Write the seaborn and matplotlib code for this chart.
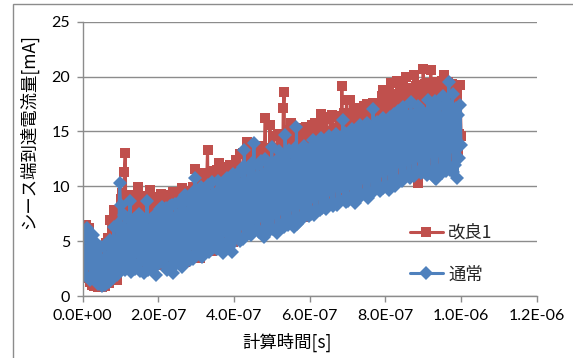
import numpy as np
import pandas as pd
import matplotlib
matplotlib.use("Agg")
import matplotlib.pyplot as plt
from matplotlib.patches import Rectangle
from matplotlib.ticker import FuncFormatter
import seaborn as sns

# Sheath-end current [mA], one sample every 2.5 ns over 1 us of simulated time
improved = [
    1.7, 5.1, 2.6, 6.5, 1.6, 5.6, 3.0, 6.2, 1.3, 4.8, 1.0, 4.4, 0.9, 4.0, 1.6, 4.3, 0.8, 3.9, 1.4, 4.2,
    0.8, 3.7, 1.5, 4.5, 0.9, 4.8, 1.8, 5.3, 1.2, 6.9, 2.1, 6.0, 1.5, 7.8, 2.4, 6.5, 1.5, 7.2, 2.6, 6.8,
    8.8, 2.8, 9.4, 3.5, 11.3, 13.0, 2.7, 7.6, 3.4, 8.2, 2.9, 9.2, 3.8, 7.4, 2.6, 8.7, 3.1, 7.9, 9.9, 2.8,
    8.5, 3.6, 7.3, 2.7, 9.1, 3.3, 8.0, 2.6, 8.6, 3.9, 7.5, 9.7, 2.9, 8.4, 3.2, 7.8, 2.8, 9.0, 3.5, 8.3,
    2.9, 8.6, 3.5, 9.3, 2.8, 8.0, 3.2, 8.8, 4.0, 8.7, 2.7, 9.2, 3.3, 8.1, 2.9, 9.5, 3.8, 8.6, 3.0, 9.4,
    3.6, 8.5, 2.9, 9.1, 4.1, 9.8, 3.4, 8.7, 3.1, 9.6, 3.9, 8.9, 3.3, 9.4, 4.3, 9.0, 3.6, 9.9, 3.5, 11.6,
    4.2, 10.3, 3.6, 11.0, 3.5, 10.6, 4.7, 10.2, 3.9, 11.2, 5.0, 10.4, 13.3, 4.3, 10.7, 4.9, 11.4, 4.1, 10.9, 5.2,
    10.6, 4.6, 11.5, 4.5, 12.1, 5.3, 11.0, 4.4, 11.6, 5.1, 11.1, 4.6, 11.8, 5.4, 11.2, 4.8, 11.9, 5.6, 11.3, 4.9,
    11.4, 5.3, 12.4, 5.9, 11.5, 5.4, 12.9, 6.1, 11.6, 5.5, 13.0, 6.4, 11.8, 5.6, 14.0, 6.0, 12.6, 5.8, 13.2, 6.5,
    12.3, 5.9, 13.4, 6.2, 12.4, 6.8, 13.6, 6.0, 12.6, 6.4, 13.7, 5.8, 12.7, 16.2, 6.3, 13.5, 6.1, 12.8, 15.6, 6.6,
    13.3, 6.4, 14.6, 6.9, 13.4, 6.2, 14.8, 7.1, 13.5, 6.6, 14.2, 6.8, 17.1, 18.6, 6.8, 14.5, 7.3, 14.0, 6.9, 15.1,
    15.8, 7.0, 14.1, 7.5, 15.2, 7.1, 14.2, 7.6, 15.0, 7.3, 14.3, 7.8, 15.3, 7.2, 14.4, 7.7, 15.4, 7.5, 14.5, 7.9,
    14.6, 7.8, 15.6, 8.1, 14.7, 7.9, 15.8, 8.3, 14.8, 8.0, 15.1, 8.5, 16.6, 8.2, 15.2, 8.6, 14.9, 8.3, 16.1, 8.7,
    15.0, 8.4, 16.3, 8.8, 16.5, 8.5, 15.2, 9.0, 16.4, 8.7, 15.3, 9.1, 15.6, 8.8, 19.1, 9.2, 16.7, 8.9, 15.5, 17.9,
    9.0, 16.0, 9.4, 17.9, 9.1, 16.2, 9.5, 15.6, 9.2, 17.1, 9.6, 16.1, 9.3, 16.9, 9.8, 15.8, 9.4, 17.3, 9.9, 16.3,
    9.5, 17.5, 10.0, 16.4, 9.6, 16.7, 10.1, 17.6, 9.7, 16.8, 10.2, 17.0, 9.8, 16.9, 10.3, 17.4, 18.2, 10.0, 18.8, 10.4,
    18.6, 10.3, 17.6, 10.6, 18.5, 10.4, 19.4, 10.8, 17.9, 10.5, 18.4, 11.0, 19.6, 10.7, 18.0, 11.1, 18.9, 10.8, 19.3, 11.2,
    17.8, 10.9, 20.0, 11.3, 18.7, 11.0, 19.0, 11.4, 17.9, 11.1, 20.1, 11.5, 19.1, 11.2, 18.2, 10.3, 19.2, 11.6, 19.0, 11.4,
    20.7, 11.6, 19.3, 11.8, 18.6, 11.7, 19.4, 12.0, 20.6, 11.8, 18.7, 12.1, 19.5, 11.9, 18.5, 12.2, 19.4, 12.0, 18.9, 12.3,
    19.6, 12.1, 20.1, 12.4, 18.8, 12.2, 19.5, 12.5, 18.4, 12.3, 19.3, 12.6, 18.8, 12.4, 18.1, 12.8, 18.6, 13.0, 14.8, 19.2,
    14.6,
]
normal = [
    2.0, 5.3, 2.6, 4.1, 1.8, 6.2, 3.4, 5.0, 1.5, 4.2, 2.9, 5.6, 1.7, 3.9, 2.4, 4.7, 1.1, 3.5, 2.0, 4.5,
    0.9, 3.1, 1.6, 4.6, 1.0, 3.6, 2.3, 4.8, 1.3, 5.1, 2.7, 4.3, 1.6, 6.3, 2.5, 4.9, 1.9, 6.6, 3.2, 10.3,
    8.3, 2.6, 5.8, 3.9, 7.4, 2.4, 6.0, 4.3, 7.1, 2.8, 8.7, 2.2, 5.6, 3.7, 7.0, 2.5, 6.1, 4.4, 7.2, 3.0,
    7.5, 2.3, 5.4, 3.6, 6.9, 2.1, 6.3, 4.0, 8.7, 2.4, 5.9, 3.3, 7.0, 2.6, 6.2, 4.1, 7.4, 1.9, 5.7, 2.8,
    6.8, 3.0, 7.9, 4.2, 8.1, 3.3, 6.7, 2.8, 8.0, 2.4, 7.1, 3.9, 8.2, 2.6, 8.3, 2.1, 7.0, 4.4, 8.4, 2.9,
    7.4, 3.6, 8.6, 3.0, 6.9, 2.6, 8.5, 4.5, 9.2, 3.1, 7.6, 3.8, 8.7, 3.3, 7.9, 4.7, 8.6, 3.4, 9.6, 10.8,
    3.9, 9.2, 5.0, 8.3, 4.1, 9.9, 3.6, 8.6, 4.4, 9.6, 5.3, 8.8, 4.6, 10.1, 4.0, 8.9, 4.5, 10.4, 5.6, 9.0,
    4.8, 9.4, 4.3, 10.5, 5.7, 9.1, 4.4, 9.9, 3.9, 10.0, 5.9, 9.2, 4.5, 10.8, 5.0, 9.4, 4.6, 10.2, 4.0, 11.1,
    5.1, 10.5, 6.3, 9.9, 5.4, 11.3, 5.0, 10.2, 6.6, 11.8, 5.2, 13.3, 5.5, 10.3, 6.7, 11.6, 5.8, 10.5, 5.6, 12.1,
    6.0, 13.9, 7.1, 10.8, 6.1, 11.9, 5.8, 10.6, 7.3, 12.3, 5.9, 11.1, 5.4, 12.5, 6.2, 10.9, 7.4, 12.0, 6.0, 11.4,
    13.6, 6.1, 11.5, 7.6, 12.3, 5.7, 11.8, 6.2, 13.2, 7.9, 11.7, 6.6, 12.6, 6.3, 14.7, 8.1, 12.0, 6.5, 13.3, 6.9,
    11.9, 8.3, 12.9, 6.3, 13.5, 7.0, 15.4, 6.6, 12.2, 8.5, 13.1, 6.9, 12.4, 7.4, 13.7, 8.6, 12.5, 7.6, 13.3, 7.3,
    13.4, 7.5, 12.6, 9.0, 14.2, 7.4, 13.0, 7.9, 13.7, 9.3, 12.8, 7.8, 14.4, 8.0, 13.1, 9.6, 13.9, 7.9, 12.9, 8.3,
    14.6, 9.7, 13.2, 8.4, 14.1, 8.2, 13.4, 10.0, 14.8, 8.3, 13.3, 8.7, 14.3, 9.9, 13.6, 16.0, 8.8, 14.9, 8.6, 13.5,
    8.7, 14.5, 10.2, 13.9, 9.0, 15.2, 8.8, 14.0, 8.5, 14.7, 10.6, 14.1, 8.9, 15.6, 9.3, 14.2, 10.8, 14.9, 9.4, 14.4,
    9.2, 15.8, 8.9, 14.3, 10.9, 15.1, 9.5, 17.0, 9.6, 14.6, 11.2, 15.9, 9.8, 14.8, 9.6, 15.4, 11.4, 16.2, 9.8, 14.9,
    10.1, 15.5, 11.6, 15.0, 9.7, 16.3, 10.2, 15.2, 12.0, 16.6, 10.0, 15.4, 10.5, 16.9, 12.2, 15.3, 10.7, 16.0, 10.5, 17.2,
    10.9, 15.5, 12.4, 16.5, 11.0, 15.7, 10.8, 17.7, 12.6, 15.8, 10.9, 16.6, 11.3, 15.6, 12.8, 17.3, 11.4, 16.0, 11.2, 16.9,
    11.3, 16.7, 12.9, 16.1, 11.0, 17.9, 11.4, 16.3, 13.1, 17.1, 11.5, 16.0, 10.8, 17.8, 10.7, 16.4, 13.2, 17.3, 11.6, 16.2,
    11.2, 18.2, 13.4, 16.5, 11.4, 17.6, 11.9, 19.5, 11.5, 16.8, 13.6, 18.4, 11.3, 16.6, 11.9, 17.1, 10.8, 16.5, 12.6, 17.4,
    13.8,
]
time_step = 2.5e-9
time_improved = np.arange(len(improved)) * time_step
time_normal = np.arange(len(normal)) * time_step

series_labels = ["改良1", "通常"]
x_ticks = np.arange(0, 1.2e-6 + 1e-9, 2e-7)
y_ticks = [0, 5, 10, 15, 20, 25]

RED = "#C0504D"
BLUE = "#4F81BD"
GRID = "#8C8C8C"

sns.set_style("white")
plt.rcParams["font.family"] = ["Lato", "Noto Sans CJK JP", "DejaVu Sans"]
CJK = ["Noto Sans CJK JP", "DejaVu Sans"]

W, H = 573, 358
fig = plt.figure(figsize=(W / 100, H / 100), dpi=100)
ax = fig.add_axes([82.7 / W, 1 - 296 / H, (536.7 - 82.7) / W, (296 - 21.7) / H])

df_red = pd.DataFrame({"t": time_improved, "v": improved})
df_blue = pd.DataFrame({"t": time_normal, "v": normal})

sns.lineplot(data=df_red, x="t", y="v", ax=ax, color=RED, linewidth=2.2,
             marker="s", markersize=6.6, markeredgewidth=0, label=series_labels[0],
             sort=False, estimator=None)
sns.lineplot(data=df_blue, x="t", y="v", ax=ax, color=BLUE, linewidth=2.2,
             marker="D", markersize=7.4, markeredgewidth=0, label=series_labels[1],
             sort=False, estimator=None)

ax.set_xlim(0, 1.2e-6)
ax.set_ylim(0, 25)
ax.set_xticks(x_ticks)
ax.set_yticks(y_ticks)
ax.xaxis.set_major_formatter(FuncFormatter(lambda v, p: f"{v:.1E}"))
ax.yaxis.set_major_formatter(FuncFormatter(lambda v, p: f"{v:.0f}"))

ax.grid(axis="y", color=GRID, linewidth=1.0)
ax.grid(axis="x", visible=False)
ax.set_axisbelow(True)
for side in ["top", "right"]:
    ax.spines[side].set_visible(False)
for side in ["left", "bottom"]:
    ax.spines[side].set_color(GRID)
    ax.spines[side].set_linewidth(1.0)

ax.tick_params(axis="both", which="major", direction="out", length=4, width=1.0,
               color=GRID, labelsize=11.5, labelcolor="black", pad=5)
ax.tick_params(axis="x", bottom=True)
ax.tick_params(axis="y", left=True)

ax.set_xlabel("計算時間[s]", fontsize=12.5, family=CJK, color="black")
ax.set_ylabel("シース端到達電流量[mA]", fontsize=12.5, family=CJK, color="black")
ax.xaxis.set_label_coords(0.451, -0.168)
ax.xaxis.label.set_va("center")
ax.yaxis.set_label_coords(-0.12, 0.60)
ax.yaxis.label.set_va("center")

leg = ax.legend(loc="upper left", bbox_to_anchor=((410 - 82.7) / 454, (296 - 224) / 274.3),
                frameon=False, handlelength=1.9, handletextpad=0.3, labelspacing=1.35,
                borderpad=0, borderaxespad=0, prop={"family": CJK, "size": 12.5})

# Chart-area border
fig.patches.append(Rectangle((12.5 / W, -0.05), 1.0, 1 - 4 / H + 0.05,
                             transform=fig.transFigure, fill=False,
                             edgecolor=GRID, linewidth=1.0))

fig.savefig("out.png", dpi=100)
